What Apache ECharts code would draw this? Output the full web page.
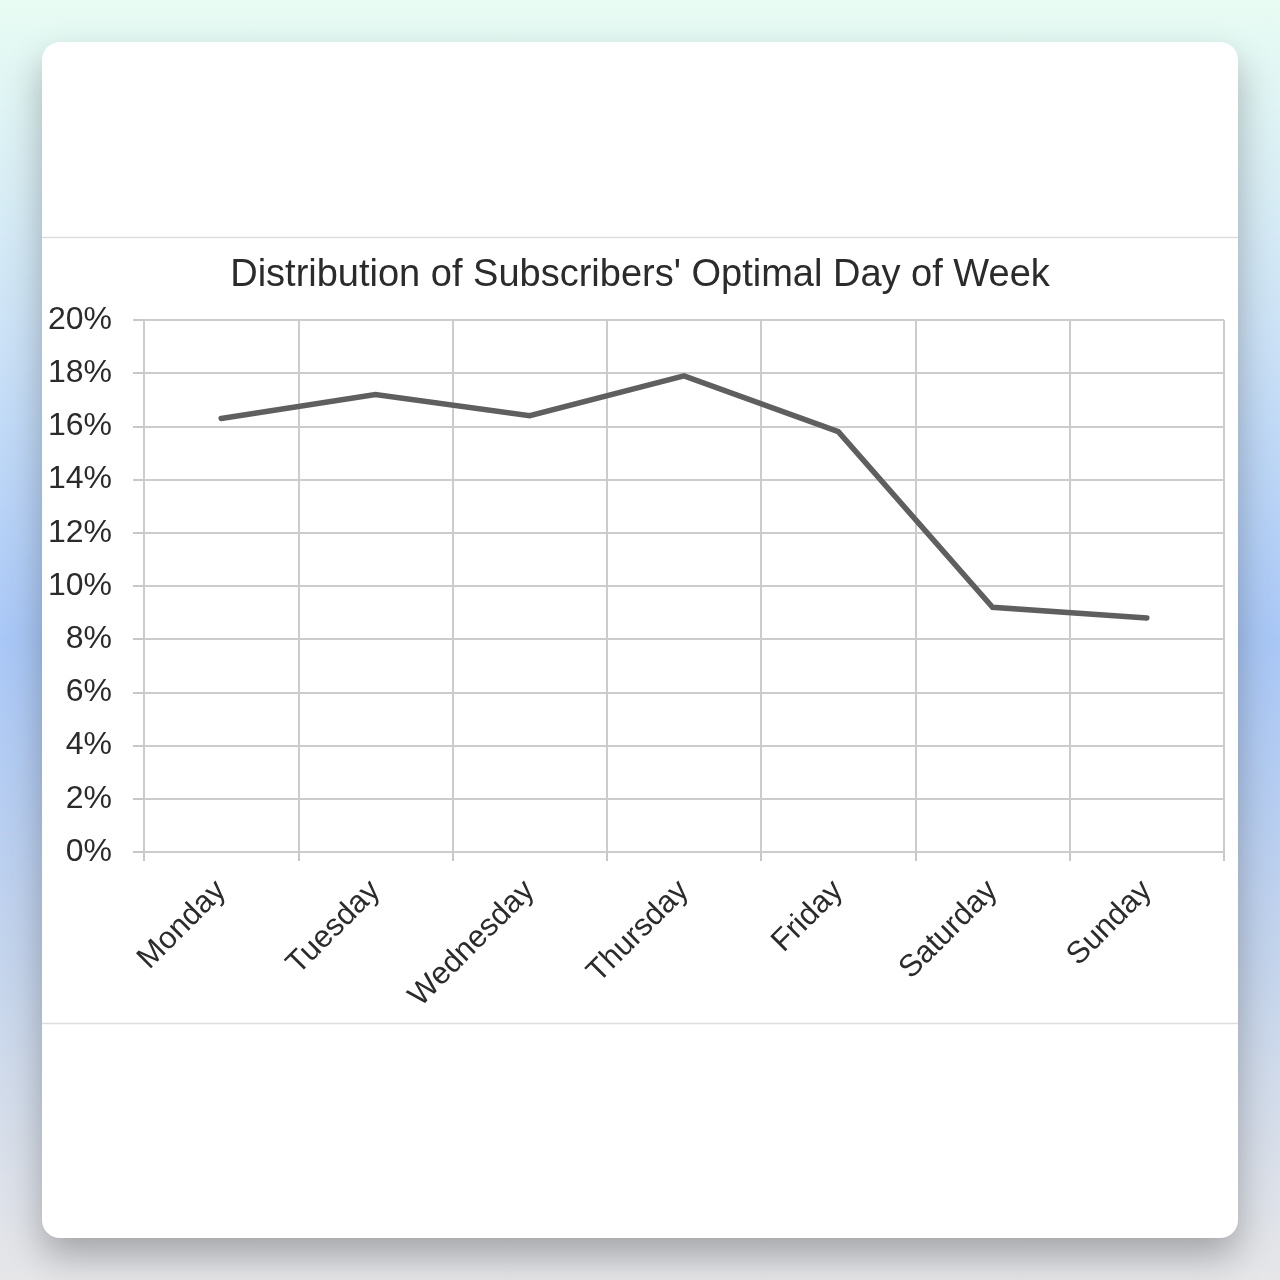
<!DOCTYPE html>
<html>
<head>
<meta charset="utf-8">
<script src="https://cdn.jsdelivr.net/npm/echarts@6/dist/echarts.min.js"></script>
<style>
  html, body { margin: 0; padding: 0; width: 1280px; height: 1280px; overflow: hidden; }
  body {
    background: linear-gradient(180deg, #e8fcf3 0%, #cde3f6 25%, #a9c7f6 50%, #c4d4ec 75%, #e6e6e8 100%);
  }
  #card {
    position: absolute; left: 42px; top: 42px; width: 1196px; height: 1196px;
    background: #ffffff; border-radius: 18px;
    box-shadow: 0 18px 36px rgba(0,0,0,0.28);
    overflow: hidden;
  }
  #chart { width: 1196px; height: 1196px; }
</style>
</head>
<body>
<div id="card"><div id="chart"></div></div>
<script>
const titleText = "Distribution of Subscribers' Optimal Day of Week";
const categories = ["Monday", "Tuesday", "Wednesday", "Thursday", "Friday", "Saturday", "Sunday"];
const values = [16.3, 17.2, 16.4, 17.9, 15.8, 9.2, 8.8];
const yTicks = { min: 0, max: 20, interval: 2 };

const chart = echarts.init(document.getElementById('chart'), null, { renderer: 'canvas' });
const fontFam = "'Liberation Sans', Arial, Helvetica, sans-serif";
chart.setOption({
  animation: false,
  backgroundColor: 'transparent',
  title: {
    text: titleText,
    left: 'center',
    top: 210,
    textStyle: { fontFamily: fontFam, fontSize: 38, fontWeight: 'normal', color: '#2b2b2b' }
  },
  graphic: [
    { type: 'line', shape: { x1: 0, y1: 195.5, x2: 1196, y2: 195.5 }, style: { stroke: '#dddddd', lineWidth: 1.5 } },
    { type: 'line', shape: { x1: 0, y1: 981.5, x2: 1196, y2: 981.5 }, style: { stroke: '#dddddd', lineWidth: 1.5 } }
  ],
  grid: { left: 102, top: 278, width: 1080, height: 532, containLabel: false },
  xAxis: {
    type: 'category',
    data: categories,
    boundaryGap: true,
    axisLine: { show: false },
    axisTick: { show: true, alignWithLabel: false, length: 9, lineStyle: { color: '#c8c8c8', width: 2 } },
    splitLine: { show: true, lineStyle: { color: '#cccccc', width: 2 } },
    axisLabel: {
      rotate: 45, margin: 34, fontFamily: fontFam, fontSize: 31, color: '#2b2b2b', interval: 0
    }
  },
  yAxis: {
    type: 'value',
    min: yTicks.min, max: yTicks.max, interval: yTicks.interval,
    axisLine: { show: false },
    axisTick: { show: true, length: 11, lineStyle: { color: '#c8c8c8', width: 2 } },
    splitLine: { show: true, lineStyle: { color: '#cccccc', width: 2 } },
    axisLabel: {
      margin: 32, fontFamily: fontFam, fontSize: 32, color: '#2b2b2b',
      padding: [6, 0, 0, 0],
      formatter: v => v + '%'
    }
  },
  series: [{
    type: 'line',
    data: values,
    symbol: 'none',
    smooth: false,
    lineStyle: { color: '#5f5f5f', width: 5.5, cap: 'round', join: 'miter' }
  }]
});
</script>
</body>
</html>
